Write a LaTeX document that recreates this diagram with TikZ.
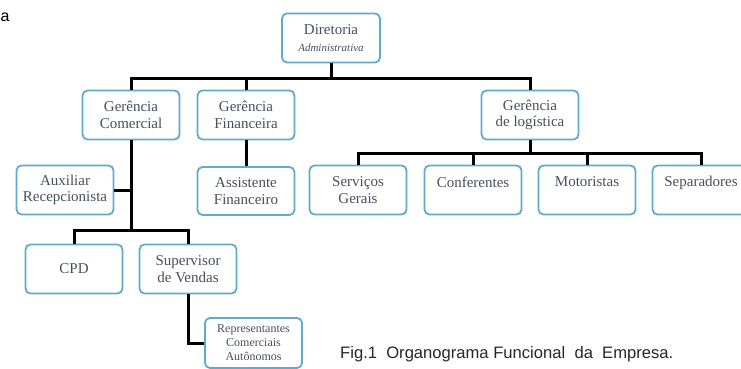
\documentclass[tikz,border=0pt]{standalone}
\usepackage{fontspec}
\setmainfont{Liberation Serif}
\newfontfamily\legenda{Liberation Sans}
\definecolor{azul}{RGB}{95,170,205}
\definecolor{texto}{RGB}{70,80,95}
\tikzset{
	cargo/.style={draw=azul, line width=1.8pt, rounded corners=5pt, fill=white, minimum width=97pt, minimum height=49pt, inner sep=0pt, align=center, text=texto, font=\fontsize{15}{16.5}\selectfont},
	linha/.style={draw=black, line width=3pt}
}

\begin{document}
\begin{tikzpicture}[x=1pt, y=-1pt]
	\useasboundingbox (0,0) rectangle (741,369);
	\node[anchor=base west, inner sep=0pt, font=\legenda\fontsize{16}{19}\selectfont] (frag) at (0.5, 22) {a};

	\node[cargo, minimum width=98pt] (dir)  at (331, 38)   {Diretoria\\{\itshape\fontsize{11}{13}\selectfont Administrativa}};
	\node[cargo]                     (gcom) at (131, 115)  {Gerência\\Comercial};
	\node[cargo]                     (gfin) at (246, 115)  {Gerência\\Financeira};
	\node[cargo]                     (glog) at (530, 115)  {Gerência\\de logística};

	\node[cargo]                     (aux)  at (65, 190)   {Auxiliar\\Recepcionista};
	\node[cargo, minimum height=48pt](ass)  at (246, 191)  {Assistente\\Financeiro};
	\node[cargo]                     (serv) at (358, 190)  {Serviços\\Gerais};
	\node[cargo]                     (conf) at (473, 190)  {Conferentes\\\mbox{}};
	\node[cargo]                     (mot)  at (587, 190)  {Motoristas\\\mbox{}};
	\node[cargo]                     (sep)  at (701, 190)  {Separadores\\\mbox{}};

	\node[cargo]                     (cpd)  at (74, 269)   {CPD};
	\node[cargo]                     (sup)  at (188, 269)  {Supervisor\\de Vendas};
	\node[cargo, minimum height=50pt, font=\fontsize{12}{14}\selectfont] (rep) at (253.5, 343) {Representantes\\Comerciais\\Autônomos};

	\node[anchor=base west, inner sep=0pt, font=\legenda\fontsize{16.6}{19}\selectfont, text=black!85] (leg) at (340, 358) {Fig.1\ \ Organograma Funcional\ \ da\ \ Empresa.};

	\draw[linha] (dir.south) -- ++(0,15) -| (gcom.north);
	\draw[linha] (dir.south) -- ++(0,15) -| (gfin.north);
	\draw[linha] (dir.south) -- ++(0,15) -| (glog.north);

	\draw[linha] (gfin) -- (ass);

	\draw[linha] (glog.south) -- ++(0,13) -| (serv.north);
	\draw[linha] (glog.south) -- ++(0,13) -| (conf.north);
	\draw[linha] (glog.south) -- ++(0,13) -| (mot.north);
	\draw[linha] (glog.south) -- ++(0,13) -| (sep.north);

	\draw[linha] (gcom.south) |- (aux.east);
	\draw[linha] (gcom.south) -- ++(0,90) -| (cpd.north);
	\draw[linha] (gcom.south) -- ++(0,90) -| (sup.north);
	\draw[linha] (sup.south) |- (rep.west);
\end{tikzpicture}
\end{document}
